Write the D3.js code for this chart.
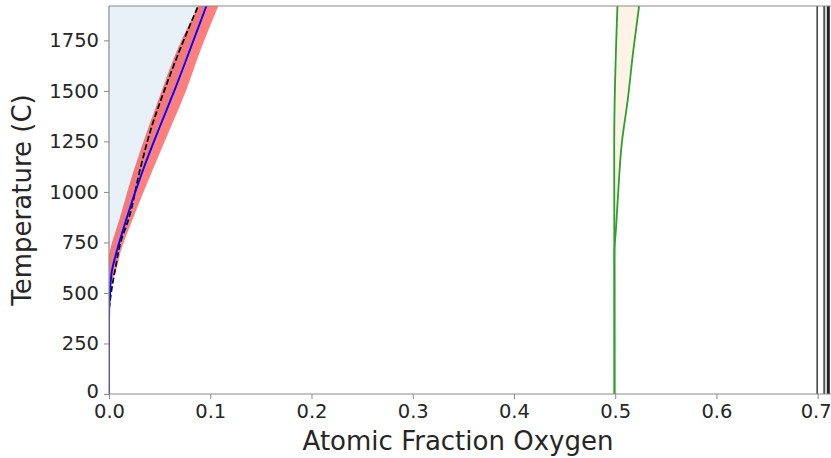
<!DOCTYPE html>
<html>
<head>
<meta charset="utf-8">
<script src="https://cdn.jsdelivr.net/npm/d3@7"></script>
<style>
  html, body { margin: 0; padding: 0; background: #ffffff; }
  svg { display: block; font-family: "DejaVu Sans", sans-serif; }
</style>
</head>
<body>
<svg id="chart" width="831" height="458"></svg>
<script>
// Oxygen solubility boundary of the metal phase (x = atomic fraction O, T in C)
const solubilityT = [0, 360, 500, 613, 712, 860, 1107, 1320, 1500, 1710, 1920];
const solubilityX = [0, 0, 0.001, 0.003, 0.008, 0.0168, 0.0335, 0.050, 0.0645, 0.0805, 0.0962];

// Uncertainty band around the solubility boundary
const bandT     = [480, 560, 613, 712, 860, 1107, 1320, 1500, 1710, 1920];
const bandLowX  = [0, -0.002, -0.002, 0.001, 0.010, 0.0245, 0.039, 0.052, 0.068, 0.0885];
const bandHighX = [0, 0.003, 0.007, 0.012, 0.023, 0.043, 0.061, 0.076, 0.091, 0.108];

// Reference (literature) boundary, dashed
const refT = [420, 530, 613, 760, 860, 1107, 1320, 1500, 1710, 1920];
const refX = [0, 0.003, 0.006, 0.012, 0.019, 0.0305, 0.042, 0.0545, 0.0705, 0.088];

// Monoxide phase field boundaries
const oxideLeftT  = [0, 1240, 1920];
const oxideLeftX  = [0.4993, 0.4990, 0.5022];
const oxideRightT = [0, 700, 820, 960, 1240, 1453, 1700, 1920];
const oxideRightX = [0.4993, 0.4993, 0.5008, 0.5025, 0.5065, 0.5123, 0.5179, 0.5236];

// Line compounds at high oxygen fraction
const compoundX     = [0.6995, 0.7065, 0.7105];
const compoundWidth = [1.5, 2, 3];
const compoundColor = ["#3a3a3a", "#555555", "#222222"];

// Axis ticks
const xTicks = [0, 0.1, 0.2, 0.3, 0.4, 0.5, 0.6, 0.7];
const yTicks = [0, 250, 500, 750, 1000, 1250, 1500, 1750];

const xDomain = [0, 0.72];
const yDomain = [0, 1920];

const svg = d3.select("#chart");
const plotLeft = 109, plotTop = 6, plotBottom = 394;
const pxPerUnit = 1012.4;

const x = d3.scaleLinear().domain(xDomain).range([plotLeft, plotLeft + pxPerUnit * xDomain[1]]);
const y = d3.scaleLinear().domain(yDomain).range([plotBottom, plotTop]);

svg.append("defs").append("clipPath").attr("id", "plotClip")
  .append("rect")
  .attr("x", x(xDomain[0])).attr("y", y(yDomain[1]))
  .attr("width", x(xDomain[1]) - x(xDomain[0]))
  .attr("height", y(yDomain[0]) - y(yDomain[1]));

const plot = svg.append("g").attr("clip-path", "url(#plotClip)");

const zipPts = (xs, ts) => xs.map((v, i) => [v, ts[i]]);
const line = d3.line().x(d => x(d[0])).y(d => y(d[1])).curve(d3.curveMonotoneY);

// light blue region: metal + dissolved oxygen
const solPts = zipPts(solubilityX, solubilityT);
const blueArea = d3.area()
  .y(d => y(d[1]))
  .x0(x(0))
  .x1(d => x(d[0]))
  .curve(d3.curveMonotoneY);
plot.append("path").datum(solPts)
  .attr("d", blueArea)
  .attr("fill", "#1f77b4").attr("fill-opacity", 0.1);

// light orange region between the monoxide boundaries
const leftPts = zipPts(oxideLeftX, oxideLeftT);
const rightPts = zipPts(oxideRightX, oxideRightT);
const oxidePoly = d3.line().x(d => x(d[0])).y(d => y(d[1]));
const leftDense = [], rightDense = [];
const interp = (xs, ts, t) => {
  for (let i = 1; i < ts.length; i++) {
    if (t <= ts[i]) {
      const f = (t - ts[i - 1]) / (ts[i] - ts[i - 1]);
      return xs[i - 1] + f * (xs[i] - xs[i - 1]);
    }
  }
  return xs[xs.length - 1];
};
// sample both edges on the tabulated temperatures of the right boundary
oxideRightT.forEach(t => {
  leftDense.push([interp(oxideLeftX, oxideLeftT, t), t]);
  rightDense.push([interp(oxideRightX, oxideRightT, t), t]);
});
plot.append("path")
  .attr("d", oxidePoly(leftDense.concat(rightDense.slice().reverse())) + "Z")
  .attr("fill", "#ff7f0e").attr("fill-opacity", 0.1);

// red uncertainty band
const bandArea = d3.area()
  .y(d => y(d.t))
  .x0(d => x(d.lo))
  .x1(d => x(d.hi))
  .curve(d3.curveMonotoneY);
plot.append("path")
  .datum(bandT.map((t, i) => ({ t, lo: bandLowX[i], hi: bandHighX[i] })))
  .attr("d", bandArea)
  .attr("fill", "#ff0000").attr("fill-opacity", 0.5);

// dashed reference boundary
plot.append("path").datum(zipPts(refX, refT))
  .attr("d", line)
  .attr("fill", "none").attr("stroke", "#000000")
  .attr("stroke-width", 1.7).attr("stroke-dasharray", "6,2.6");

// computed solubility boundary
plot.append("path").datum(solPts)
  .attr("d", line)
  .attr("fill", "none").attr("stroke", "#0000ff").attr("stroke-width", 1.9);

// monoxide boundaries
[leftPts, rightPts].forEach(pts => {
  plot.append("path").datum(pts)
    .attr("d", line)
    .attr("fill", "none").attr("stroke", "#2ca02c").attr("stroke-width", 1.8);
});

// line compounds
plot.selectAll("line.compound").data(compoundX).enter().append("line")
  .attr("class", "compound")
  .attr("x1", d => x(d)).attr("x2", d => x(d))
  .attr("y1", y(yDomain[0])).attr("y2", y(yDomain[1]))
  .attr("stroke", (d, i) => compoundColor[i])
  .attr("stroke-width", (d, i) => compoundWidth[i]);

// axes
const axisColor = "#8a8a8a";
const xAxis = d3.axisBottom(x).tickValues(xTicks).tickFormat(d3.format(".1f")).tickSizeOuter(0).tickSize(5).tickPadding(5);
const yAxis = d3.axisLeft(y).tickValues(yTicks).tickFormat(d3.format("d")).tickSizeOuter(0).tickSize(5).tickPadding(5);

const gx = svg.append("g").attr("transform", `translate(0,${plotBottom})`).call(xAxis);
const gy = svg.append("g").attr("transform", `translate(${plotLeft},0)`).call(yAxis);
[gx, gy].forEach(g => {
  g.select(".domain").remove();
  g.selectAll(".tick line").attr("stroke", axisColor).attr("stroke-width", 1);
  g.selectAll(".tick text").attr("fill", "#262626")
    .style("font-size", "19.5px").style("font-family", "'DejaVu Sans', sans-serif");
});
// keep the last x label inside the canvas edge
gx.selectAll(".tick text").filter(d => d === 0.7).attr("dx", "-2");
// lift the lowest y label slightly clear of the x labels
gy.selectAll(".tick text").filter(d => d === 0).attr("dy", "0.2em");

// spines
svg.append("line").attr("x1", plotLeft).attr("x2", plotLeft).attr("y1", plotTop).attr("y2", plotBottom)
  .attr("stroke", axisColor).attr("stroke-width", 1.2);
svg.append("line").attr("x1", plotLeft).attr("x2", 831).attr("y1", plotBottom).attr("y2", plotBottom)
  .attr("stroke", axisColor).attr("stroke-width", 1.2);
svg.append("line").attr("x1", plotLeft).attr("x2", 831).attr("y1", plotTop).attr("y2", plotTop)
  .attr("stroke", axisColor).attr("stroke-width", 1.2);

// axis titles
svg.append("text")
  .attr("x", 458).attr("y", 450)
  .attr("text-anchor", "middle")
  .attr("fill", "#262626")
  .style("font-size", "26px")
  .text("Atomic Fraction Oxygen");

svg.append("text")
  .attr("transform", "translate(31,200) rotate(-90)")
  .attr("text-anchor", "middle")
  .attr("fill", "#262626")
  .style("font-size", "26px")
  .text("Temperature (C)");
</script>
</body>
</html>
